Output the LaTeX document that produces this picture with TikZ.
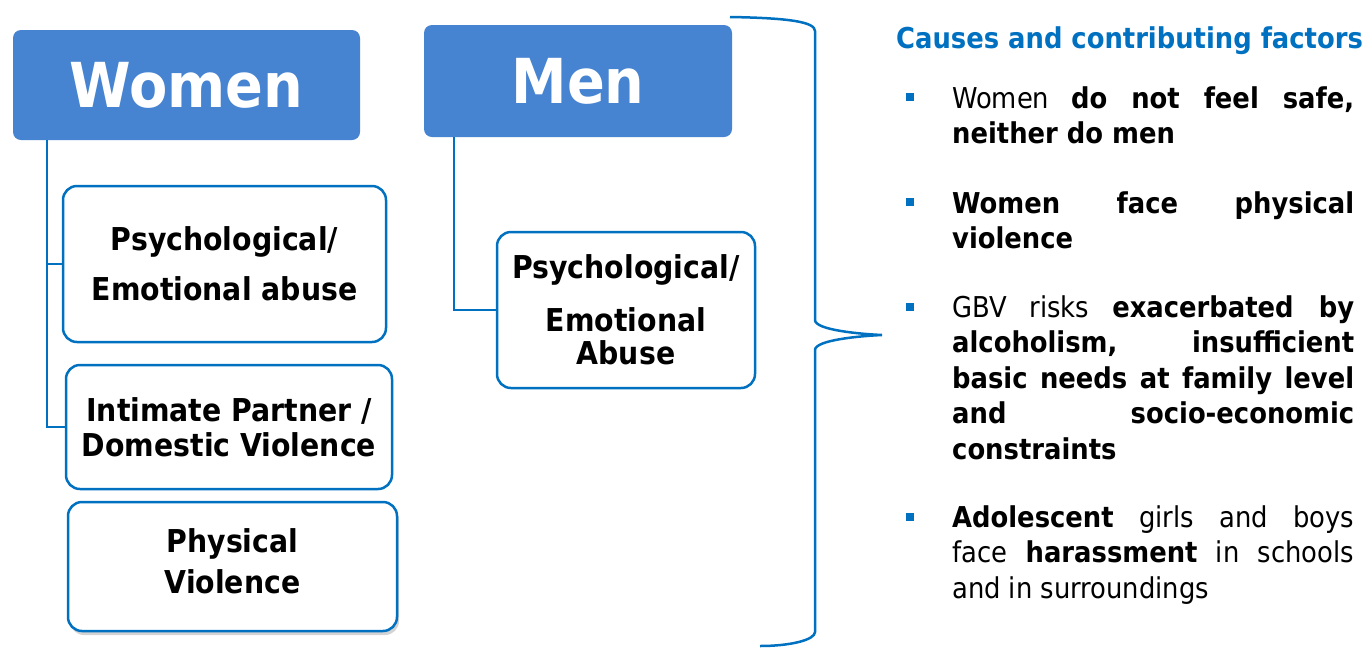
\documentclass[tikz,border=0pt]{standalone}
\usepackage{fontspec}
\setmainfont{DejaVu Sans Condensed}
\usetikzlibrary{positioning,shadows}
\definecolor{headblue}{RGB}{70,131,208}
\definecolor{lineblue}{RGB}{0,112,192}

\begin{document}
\begin{tikzpicture}[x=1pt,y=-1pt]
	\tikzstyle{head}=[rectangle,rounded corners=8pt,fill=headblue,text=white,font=\fontsize{62}{62}\selectfont\bfseries]
	\tikzstyle{box}=[rectangle,rounded corners=14pt,draw=lineblue,line width=2.5pt,fill=white,align=center,font=\fontsize{31.5}{35}\selectfont\bfseries]
	\tikzstyle{link}=[draw=lineblue,line width=2.5pt]
	\tikzstyle{bullet}=[rectangle,fill=lineblue,minimum size=8pt,inner sep=0pt]
	\tikzstyle{point}=[anchor=north west,inner sep=0pt,text width=402pt,align=justify,font=\fontsize{28.7}{35.5}\selectfont]
	\useasboundingbox (0,0) rectangle (1366,649);
	\node[head,minimum width=347pt,minimum height=110pt] (women) at (186.5,85) {Women};
	\node[head,minimum width=308pt,minimum height=112pt] (men) at (578,81) {Men};
	\node[box,minimum width=323pt,minimum height=156pt] (wpsy) at (224.5,264) {Psychological/\\[15pt]Emotional abuse};
	\node[box,minimum width=326pt,minimum height=124pt] (wipv) at (229,427) {Intimate Partner /\\Domestic Violence};
	\node[box,minimum width=329pt,minimum height=129pt,drop shadow={shadow xshift=2pt,shadow yshift=-4pt,opacity=0.35}] (wphys) at (232.5,566.5) {Physical\\[6pt]Violence\\[-25pt]};
	\node[box,minimum width=258pt,minimum height=156pt] (mpsy) at (626,310) {Psychological/\\[18pt]Emotional\\[-2pt]Abuse};
	\coordinate (wroot) at ([xshift=34pt]women.south west);
	\coordinate (mroot) at ([xshift=30pt]men.south west);
	\draw[link] (wroot) |- (wpsy.west);
	\draw[link] (wroot) |- (wipv.west);
	\draw[link] (mroot) |- (mpsy.west);
	\coordinate (tip) at (882,335);
	\draw[link] (730,17) .. controls (790,18) and (815,22) .. (815,31) -- (815,320) .. controls (815,330) and (860,334) .. (tip) .. controls (860,336) and (815,340) .. (815,350) -- (815,632) .. controls (815,640) and (790,646) .. (760,646);
	\node[anchor=base west,inner sep=0pt,text=lineblue,font=\fontsize{28.7}{35}\selectfont\bfseries] (title) at (896,48) {Causes and contributing factors};
	\node[bullet] (b1) at (910,97) {};
	\node[bullet] (b2) at (910,202) {};
	\node[bullet] (b3) at (910,307) {};
	\node[bullet] (b4) at (910,517) {};
	\node[point] (p1) at (952,83) {\strut Women \textbf{do not feel safe,}\linebreak\textbf{neither do men}};
	\node[point] (p2) at (952,188) {\strut\textbf{Women face physical}\linebreak\textbf{violence}};
	\node[point] (p3) at (952,292) {\strut GBV risks \textbf{exacerbated by}\linebreak\textbf{alcoholism, insufficient}\linebreak\textbf{basic needs at family level}\linebreak\textbf{and socio-economic}\linebreak\textbf{constraints}};
	\node[point] (p4) at (952,502) {\strut\textbf{Adolescent} girls and boys\linebreak face \textbf{harassment} in schools\linebreak and in surroundings};
\end{tikzpicture}
\end{document}
